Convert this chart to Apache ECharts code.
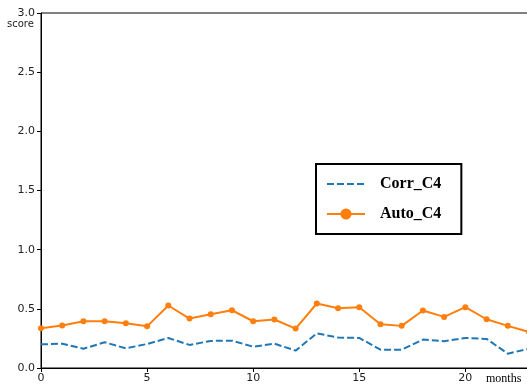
<!DOCTYPE html>
<html>
<head>
<meta charset="utf-8">
<script src="https://cdn.jsdelivr.net/npm/echarts@6/dist/echarts.min.js"></script>
<style>
  html, body { margin: 0; padding: 0; background: #fff; }
  #chart { width: 527px; height: 389px; }
</style>
</head>
<body>
<div id="chart"></div>
<script>
// Monthly scores for the C4 group
const months = [0,1,2,3,4,5,6,7,8,9,10,11,12,13,14,15,16,17,18,19,20,21,22,23];
const corrC4 = [0.20,0.205,0.163,0.217,0.166,0.203,0.254,0.195,0.229,0.231,0.18,0.206,0.147,0.293,0.257,0.254,0.155,0.155,0.24,0.226,0.254,0.246,0.121,0.163];
const autoC4 = [0.335,0.36,0.395,0.395,0.378,0.352,0.528,0.418,0.454,0.488,0.395,0.41,0.333,0.545,0.505,0.514,0.37,0.356,0.486,0.432,0.514,0.412,0.356,0.305];
const yTicks = [0, 0.5, 1.0, 1.5, 2.0, 2.5, 3.0];

const pairs = (ys) => months.map((m, i) => [m, ys[i]]);

const chart = echarts.init(document.getElementById('chart'), null, { renderer: 'canvas' });

chart.setOption({
  animation: false,
  backgroundColor: '#fff',
  grid: {
    left: 41, top: 13, width: 488, height: 355,
    outerBoundsMode: 'none',
    containLabel: false,
    show: true, borderColor: '#000', borderWidth: 1, backgroundColor: 'transparent'
  },
  xAxis: {
    type: 'value', min: 0, max: 23, interval: 5,
    axisLine: { show: true, lineStyle: { color: '#000', width: 1 } },
    axisTick: { show: true, length: 4, lineStyle: { color: '#000' } },
    axisLabel: {
      color: '#222', fontFamily: 'DejaVu Sans', fontSize: 11, margin: 5,
      formatter: (v) => (v % 5 === 0 ? String(v) : '')
    },
    splitLine: { show: false }
  },
  yAxis: {
    type: 'value', min: yTicks[0], max: yTicks[yTicks.length - 1], interval: 0.5,
    axisLine: { show: true, lineStyle: { color: '#000', width: 1 } },
    axisTick: { show: true, length: 4, lineStyle: { color: '#000' } },
    axisLabel: {
      color: '#222', fontFamily: 'DejaVu Sans', fontSize: 11, margin: 6,
      formatter: (v) => v.toFixed(1)
    },
    splitLine: { show: false }
  },
  legend: {
    orient: 'vertical',
    left: 316, top: 164,
    padding: [12, 20, 12, 10],
    itemGap: 14,
    itemWidth: 38, itemHeight: 14,
    borderColor: '#000', borderWidth: 2,
    backgroundColor: '#fff',
    textStyle: { fontFamily: 'Liberation Serif', fontWeight: 'bold', fontSize: 16, color: '#000', padding: [0, 0, 0, 10] },
    data: [
      { name: 'Corr_C4', itemStyle: { opacity: 0 } },
      'Auto_C4'
    ]
  },
  graphic: [
    { type: 'text', left: 7, top: 19, style: { text: 'score', font: '10px "DejaVu Sans"', fill: '#222' } },
    { type: 'text', left: 486, top: 373, style: { text: 'months', font: '12px "Liberation Serif"', fill: '#000' } }
  ],
  series: [
    {
      name: 'Corr_C4', type: 'line', data: pairs(corrC4),
      showSymbol: false, symbol: 'none',
      lineStyle: { color: '#1f77b4', width: 2, type: [7, 3] },
      itemStyle: { color: '#1f77b4' },
      z: 2
    },
    {
      name: 'Auto_C4', type: 'line', data: pairs(autoC4),
      symbol: 'circle', symbolSize: 6,
      lineStyle: { color: '#ff7f0e', width: 2 },
      itemStyle: { color: '#ff7f0e' },
      z: 3
    }
  ]
});
</script>
</body>
</html>
